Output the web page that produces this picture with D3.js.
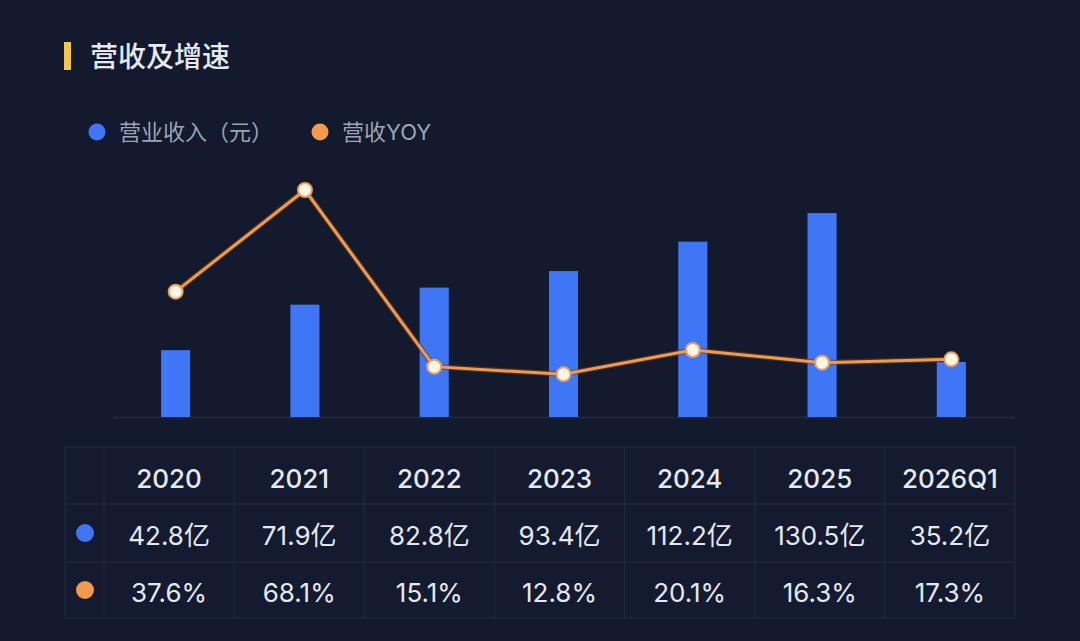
<!DOCTYPE html>
<html>
<head>
<meta charset="utf-8">
<script src="https://cdn.jsdelivr.net/npm/d3@7"></script>
<style>
  html, body { margin: 0; padding: 0; background: #131a2d; }
  svg { display: block; font-family: Inter, "Noto Sans CJK SC", sans-serif; }
</style>
</head>
<body>
<div id="grafica"></div>
<script>
// datos
const categorias = ['2020', '2021', '2022', '2023', '2024', '2025', '2026Q1']
const ingresos = [42.8, 71.9, 82.8, 93.4, 112.2, 130.5, 35.2]   // 亿
const yoy = [37.6, 68.1, 15.1, 12.8, 20.1, 16.3, 17.3]          // %
const etiquetas_ingresos = ['42.8亿', '71.9亿', '82.8亿', '93.4亿', '112.2亿', '130.5亿', '35.2亿']
const etiquetas_yoy = ['37.6%', '68.1%', '15.1%', '12.8%', '20.1%', '16.3%', '17.3%']

const width = 1080
const height = 641
var bgColor = '#131a2d'
var barColor = '#3f76f6'   // azul
var lineColor = '#f39a4c'  // naranja
var textColor = '#e6e9f0'
var gridColor = '#222b45'

const svg = d3.select('#grafica')
    .append('svg')
    .attr('width', width)
    .attr('height', height)

svg.append('rect')
    .attr('width', width)
    .attr('height', height)
    .attr('fill', bgColor)

// titulo
svg.append('rect')
    .attr('x', 64).attr('y', 42)
    .attr('width', 7).attr('height', 28)
    .attr('fill', '#f6c548')

svg.append('text')
    .attr('x', 90).attr('y', 67)
    .text('营收及增速')
    .style('font-family', '"Noto Sans CJK SC", sans-serif')
    .style('font-size', '28px')
    .style('font-weight', 500)
    .style('fill', textColor)

// leyenda
const leyenda = [
    { nombre: '营业收入（元）', color: barColor, x: 97 },
    { nombre: '营收YOY', color: lineColor, x: 320 }
]
const ley = svg.selectAll('.leyenda')
    .data(leyenda)
    .enter().append('g')
    .attr('class', 'leyenda')
    .attr('transform', d => `translate(${d.x}, 132)`)
ley.append('circle').attr('r', 8.5).attr('fill', d => d.color)
ley.append('text')
    .attr('x', 22).attr('dy', '0.36em')
    .text(d => d.nombre)
    .style('font-size', '22px')
    .style('fill', '#9ea4b6')

// escalas
const x = d3.scaleBand()
    .domain(categorias)
    .range([111, 1016])
    .paddingInner(0.775)
    .paddingOuter(0.3875)

const yBar = d3.scaleLinear()
    .domain([0, 160])
    .range([417, 167])

const yLine = d3.scaleLinear()
    .domain([0, 75])
    .range([417, 167])

// linea base
svg.append('line')
    .attr('x1', 113).attr('x2', 1015)
    .attr('y1', yBar(0) + 0.5).attr('y2', yBar(0) + 0.5)
    .attr('stroke', gridColor)
    .attr('stroke-width', 1.5)

// barras
svg.selectAll('.bar')
    .data(categorias)
    .enter().append('rect')
    .attr('class', 'bar')
    .attr('x', d => x(d))
    .attr('y', (d, i) => yBar(ingresos[i]))
    .attr('width', x.bandwidth())
    .attr('height', (d, i) => yBar(0) - yBar(ingresos[i]))
    .attr('fill', barColor)

// linea yoy
const cx = d => x(d) + x.bandwidth() / 2
const linea = d3.line()
    .x(d => cx(d))
    .y((d, i) => yLine(yoy[i]))

svg.append('path')
    .datum(categorias)
    .attr('d', linea)
    .attr('fill', 'none')
    .attr('stroke', '#6b3f1f')
    .attr('stroke-width', 5.5)
    .attr('stroke-opacity', 0.6)
svg.append('path')
    .datum(categorias)
    .attr('d', linea)
    .attr('fill', 'none')
    .attr('stroke', lineColor)
    .attr('stroke-width', 3)

svg.selectAll('.punto')
    .data(categorias)
    .enter().append('circle')
    .attr('class', 'punto')
    .attr('cx', d => cx(d))
    .attr('cy', (d, i) => yLine(yoy[i]))
    .attr('r', 7)
    .attr('fill', '#fff6e6')
    .attr('stroke', '#e8a060')
    .attr('stroke-width', 2)

// tabla
const tx = d3.scaleBand()
    .domain(categorias)
    .range([104, 1015])
const filas = [447, 504, 562, 618]
const tabla = svg.append('g').attr('class', 'tabla')

tabla.append('rect')
    .attr('x', 65).attr('y', filas[0])
    .attr('width', 1015 - 65).attr('height', filas[3] - filas[0])
    .attr('fill', '#141b31')
    .attr('stroke', gridColor)

filas.slice(1, 3).forEach(yy => {
    tabla.append('line')
        .attr('x1', 65).attr('x2', 1015)
        .attr('y1', yy).attr('y2', yy)
        .attr('stroke', gridColor)
})
tabla.selectAll('.col')
    .data(categorias)
    .enter().append('line')
    .attr('class', 'col')
    .attr('x1', d => tx(d)).attr('x2', d => tx(d))
    .attr('y1', filas[0]).attr('y2', filas[3])
    .attr('stroke', gridColor)

const tcx = d => tx(d) + tx.bandwidth() / 2
const mid = i => (filas[i] + filas[i + 1]) / 2 + 3

tabla.selectAll('.cabecera')
    .data(categorias)
    .enter().append('text')
    .attr('x', d => tcx(d)).attr('y', mid(0))
    .attr('dy', '0.35em')
    .attr('text-anchor', 'middle')
    .text(d => d)
    .style('font-size', '26px')
    .style('font-weight', 500)
    .style('fill', textColor)

tabla.selectAll('.fila-ingresos')
    .data(categorias)
    .enter().append('text')
    .attr('x', d => tcx(d)).attr('y', mid(1))
    .attr('dy', '0.35em')
    .attr('text-anchor', 'middle')
    .text((d, i) => etiquetas_ingresos[i])
    .style('font-size', '26px')
    .style('fill', textColor)

tabla.selectAll('.fila-yoy')
    .data(categorias)
    .enter().append('text')
    .attr('x', d => tcx(d)).attr('y', mid(2))
    .attr('dy', '0.35em')
    .attr('text-anchor', 'middle')
    .text((d, i) => etiquetas_yoy[i])
    .style('font-size', '26px')
    .style('fill', textColor)

tabla.append('circle').attr('cx', 85).attr('cy', mid(1) - 3).attr('r', 9).attr('fill', barColor)
tabla.append('circle').attr('cx', 85).attr('cy', mid(2) - 3).attr('r', 9).attr('fill', lineColor)
</script>
</body>
</html>
